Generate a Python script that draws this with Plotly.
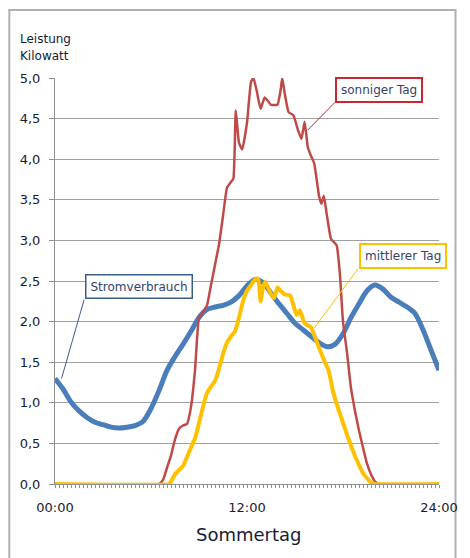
import plotly.graph_objects as go

# ---------------- data ----------------
# Stromverbrauch (consumption), hours vs kW
verbrauch_h = [0, 0.5, 1, 1.5, 2, 2.5, 3, 3.5, 4, 4.5, 5, 5.5, 6, 6.5, 7, 7.5, 8, 8.5,
               9, 9.5, 10, 10.5, 11, 11.5, 12, 12.5, 13, 13.5, 14, 14.5, 15, 15.5, 16,
               16.5, 17, 17.5, 18, 18.5, 19, 19.5, 20, 20.5, 21, 21.5, 22, 22.5, 23, 23.5, 24]
verbrauch_kw = [1.30, 1.17, 1.01, 0.90, 0.82, 0.76, 0.73, 0.70, 0.69, 0.70, 0.72, 0.77,
                0.93, 1.15, 1.40, 1.57, 1.72, 1.88, 2.05, 2.15, 2.18, 2.20, 2.24, 2.32,
                2.44, 2.52, 2.48, 2.35, 2.22, 2.10, 1.98, 1.90, 1.82, 1.74, 1.69, 1.72,
                1.85, 2.05, 2.22, 2.38, 2.45, 2.40, 2.30, 2.24, 2.18, 2.10, 1.90, 1.65, 1.40]

# sonniger Tag (sunny day PV output)
sonnig_h = [0, 6.5, 6.75, 7.0, 7.25, 7.5, 7.75, 8.0, 8.25, 8.5, 8.75, 9.0, 9.25, 9.5,
            9.75, 10.0, 10.25, 10.5, 10.75, 11.0, 11.15, 11.3, 11.5, 11.7, 12.0, 12.25,
            12.4, 12.6, 12.85, 13.1, 13.3, 13.5, 13.9, 14.1, 14.2, 14.35, 14.6, 14.9,
            15.2, 15.4, 15.6, 15.8, 16.0, 16.2, 16.5, 16.65, 16.8, 17.0, 17.25, 17.6,
            17.8, 18.0, 18.25, 18.5, 18.75, 19.0, 19.25, 19.5, 19.75, 20.0, 20.25, 24]
sonnig_kw = [0, 0, 0.05, 0.20, 0.35, 0.55, 0.68, 0.72, 0.74, 0.95, 1.40, 2.05, 2.12, 2.20,
             2.45, 2.70, 2.95, 3.30, 3.65, 3.72, 3.76, 4.60, 4.20, 4.12, 4.45, 4.95,
             5.00, 4.85, 4.62, 4.76, 4.72, 4.67, 4.67, 4.85, 5.00, 4.82, 4.58, 4.54,
             4.35, 4.25, 4.46, 4.15, 4.04, 3.95, 3.55, 3.45, 3.55, 3.30, 3.02, 2.94,
             2.60, 2.00, 1.62, 1.18, 0.90, 0.66, 0.45, 0.25, 0.12, 0.03, 0, 0]

# mittlerer Tag (average day PV output)
mittel_h = [0, 7.1, 7.25, 7.5, 7.75, 8.0, 8.25, 8.5, 8.75, 9.0, 9.25, 9.5, 9.75, 10.0,
            10.25, 10.5, 10.75, 11.0, 11.25, 11.5, 11.75, 12.0, 12.25, 12.5, 12.7, 12.85,
            13.0, 13.15, 13.35, 13.5, 13.7, 13.9, 14.1, 14.3, 14.7, 14.9, 15.1, 15.3,
            15.6, 16.0, 16.4, 16.8, 17.1, 17.4, 17.8, 18.3, 18.8, 19.3, 19.75, 20.0, 24]
mittel_kw = [0, 0, 0.03, 0.12, 0.17, 0.22, 0.33, 0.45, 0.56, 0.75, 0.95, 1.12, 1.20, 1.27,
             1.42, 1.60, 1.74, 1.82, 1.88, 2.05, 2.25, 2.38, 2.45, 2.52, 2.53, 2.25,
             2.42, 2.49, 2.40, 2.34, 2.29, 2.42, 2.38, 2.34, 2.32, 2.20, 2.08, 2.14,
             1.98, 1.93, 1.73, 1.53, 1.40, 1.12, 0.87, 0.58, 0.32, 0.12, 0.02, 0, 0]

x_tickvals = [0, 12, 24]
x_ticktext = ["00:00", "12:00", "24:00"]
y_tickvals = [0, 0.5, 1, 1.5, 2, 2.5, 3, 3.5, 4, 4.5, 5]
y_ticktext = ["0,0", "0,5", "1,0", "1,5", "2,0", "2,5", "3,0", "3,5", "4,0", "4,5", "5,0"]

# ---------------- figure ----------------
BLUE = "#4a7ebb"
RED = "#be4b48"
YELLOW = "#ffc000"
TXT = "#161b36"
ANN_TXT = "#34426a"
FONT = "DejaVu Sans"

fig = go.Figure()
fig.add_trace(go.Scatter(x=verbrauch_h, y=verbrauch_kw, mode="lines", name="Stromverbrauch",
                         line=dict(color=BLUE, width=5, shape="spline", smoothing=0.8),
                         cliponaxis=False))
fig.add_trace(go.Scatter(x=sonnig_h, y=sonnig_kw, mode="lines", name="sonniger Tag",
                         line=dict(color=RED, width=2.5, shape="spline", smoothing=0.4),
                         cliponaxis=False))
fig.add_trace(go.Scatter(x=mittel_h, y=mittel_kw, mode="lines", name="mittlerer Tag",
                         line=dict(color=YELLOW, width=4, shape="spline", smoothing=0.4),
                         cliponaxis=False))

# leader lines (data coordinates)
fig.add_shape(type="line", xref="x", yref="y", x0=17.5, y0=4.70, x1=15.8, y1=4.36,
              line=dict(color="#c8282e", width=1))
fig.add_shape(type="line", xref="x", yref="y", x0=18.94, y0=2.65, x1=16.2, y1=1.92,
              line=dict(color=YELLOW, width=1))
fig.add_shape(type="line", xref="x", yref="y", x0=1.82, y0=2.27, x1=0.41, y1=1.30,
              line=dict(color="#385d8a", width=1))

# outer chart border
fig.add_shape(type="rect", xref="paper", yref="paper", x0=-0.119, x1=1.043, y0=-0.2, y1=1.1675,
              line=dict(color="#b0b0b0", width=2), layer="below")

ann_font = dict(family=FONT, size=12, color=ANN_TXT)
fig.add_annotation(xref="paper", yref="paper", x=0.844, y=0.970, text="sonniger Tag",
                   showarrow=False, font=ann_font, bgcolor="white", bordercolor="#c8282e",
                   borderwidth=2, borderpad=4, xanchor="center", yanchor="middle")
fig.add_annotation(xref="paper", yref="paper", x=0.905, y=0.5616, text="mittlerer Tag",
                   showarrow=False, font=ann_font, bgcolor="white", bordercolor=YELLOW,
                   borderwidth=2, borderpad=4, xanchor="center", yanchor="middle")
fig.add_annotation(xref="paper", yref="paper", x=0.2194, y=0.486, text="Stromverbrauch",
                   showarrow=False, font=ann_font, bgcolor="white", bordercolor="#385d8a",
                   borderwidth=1.5, borderpad=4, xanchor="center", yanchor="middle")

# axis titles
fig.add_annotation(xref="paper", yref="paper", x=-0.097, y=1.096, text="Leistung",
                   showarrow=False, font=dict(family=FONT, size=12, color=TXT),
                   xanchor="left", yanchor="middle")
fig.add_annotation(xref="paper", yref="paper", x=-0.097, y=1.054, text="Kilowatt",
                   showarrow=False, font=dict(family=FONT, size=12, color=TXT),
                   xanchor="left", yanchor="middle")
fig.add_annotation(xref="paper", yref="paper", x=0.506, y=-0.1256, text="Sommertag",
                   showarrow=False, font=dict(family=FONT, size=18, color=TXT),
                   xanchor="center", yanchor="middle")

fig.update_layout(
    width=470, height=558,
    margin=dict(l=55, r=20, t=78, b=74),
    paper_bgcolor="white", plot_bgcolor="white",
    showlegend=False,
    font=dict(family=FONT, size=13, color=TXT),
    xaxis=dict(range=[0, 24], tickvals=x_tickvals, ticktext=x_ticktext,
               showgrid=False, zeroline=False, showline=True, linecolor="#909090",
               linewidth=1, ticks="outside", ticklen=3, tickcolor="#909090",
               ticklabelstandoff=8,
               minor=dict(dtick=0.25, ticks="outside", ticklen=3, tickcolor="#909090",
                          showgrid=False)),
    yaxis=dict(range=[0, 5], tickvals=y_tickvals, ticktext=y_ticktext,
               showgrid=True, gridcolor="#a0a0a0", gridwidth=1, zeroline=False,
               showline=True, linecolor="#909090", linewidth=1,
               ticks="outside", ticklen=5, tickcolor="#909090", ticklabelstandoff=6),
)

# remove the default 8px page margin so the figure fills the window exactly
fig.write_html("out.html", config={"displayModeBar": False},
               post_script="document.body.style.margin='0';document.body.style.overflow='hidden';")
